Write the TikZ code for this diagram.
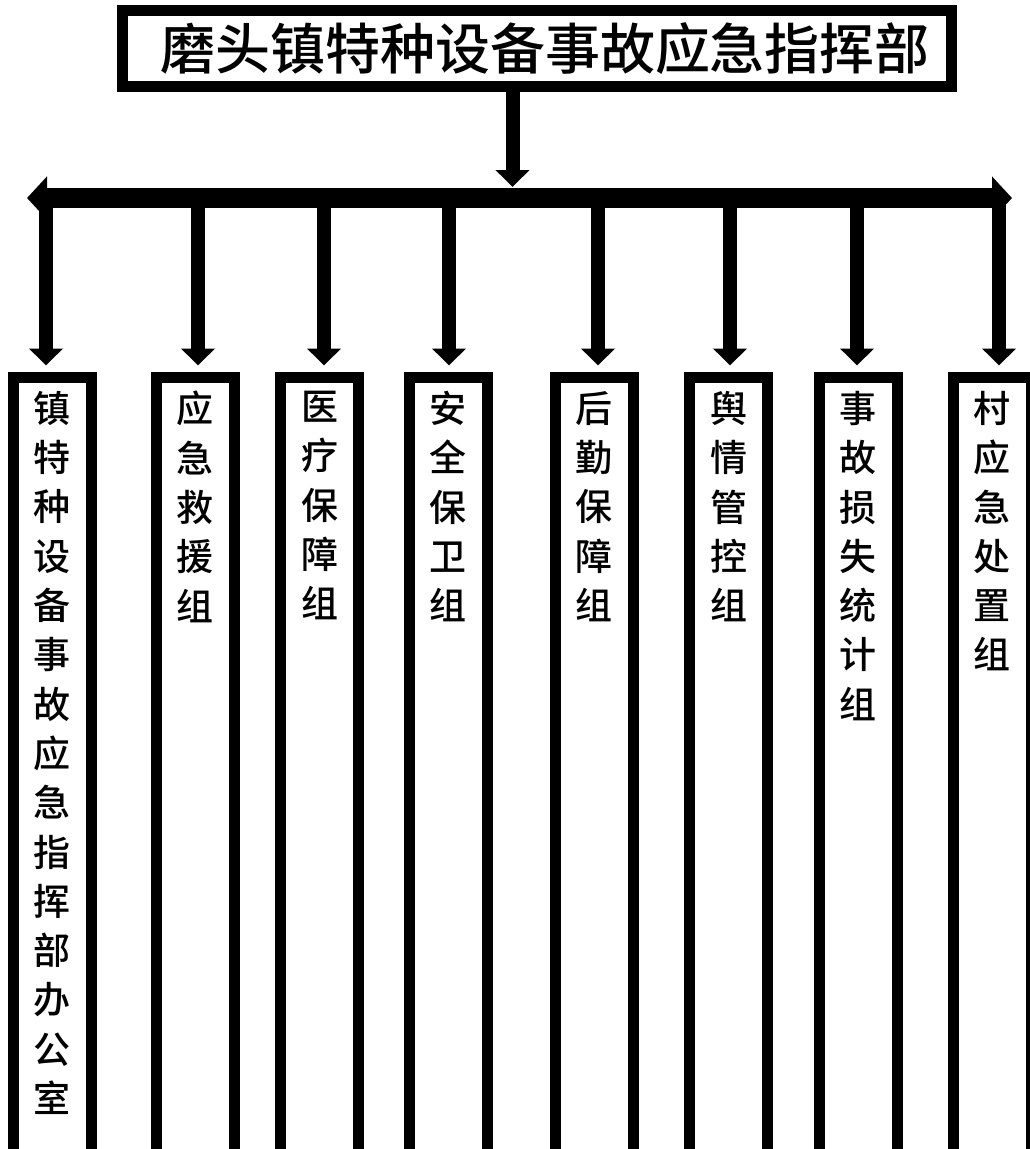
\documentclass[tikz,border=0pt]{standalone}
\usepackage{fontspec}
\newfontfamily\cjk{Noto Sans CJK SC}[UprightFont=* Medium, BoldFont=* Bold]
\usetikzlibrary{arrows.meta}
\begin{document}
\begin{tikzpicture}[x=1pt,y=-1pt,
  gbox/.style={draw=black, line width=11pt, minimum width=78pt, minimum height=782.5pt, inner sep=0pt},
  vtext/.style={anchor=north, inner sep=0pt, align=center, font=\cjk\fontsize{37}{49.3}\selectfont},
  conn/.style={line width=14pt, -{Triangle[width=33pt,length=17pt]}},
  barline/.style={line width=20pt, {Triangle[width=42pt,length=20pt]}-{Triangle[width=42pt,length=20pt]}}]
\useasboundingbox (0,0) rectangle (1030,1149);
% top box
\node[draw=black, line width=11pt, minimum width=829pt, minimum height=76pt, inner sep=0pt,
      font=\cjk\fontsize{55}{60}\selectfont] (top) at (537,48.5) {\hspace*{16pt}磨头镇特种设备事故应急指挥部};
% horizontal bar
\coordinate (L) at (27,198);
\coordinate (R) at (1012,198);
\draw[barline] (L) -- (R);
% trunk
\coordinate (jt) at (512.5,187);
\draw[conn] (top.south -| jt) -- (jt);
% boxes
\node[gbox] (b1) at (52,768.75) {};
\node[gbox] (b2) at (195,768.75) {};
\node[gbox] (b3) at (319.5,768.75) {};
\node[gbox] (b4) at (448,768.75) {};
\node[gbox] (b5) at (594,768.75) {};
\node[gbox] (b6) at (728.5,768.75) {};
\node[gbox] (b7) at (858,768.75) {};
\node[gbox] (b8) at (992,768.75) {};
% texts
\node[vtext] (t1) at (52,391) {镇\\特\\种\\设\\备\\事\\故\\应\\急\\指\\挥\\部\\办\\公\\室};
\node[vtext] (t2) at (195,391) {应\\急\\救\\援\\组};
\node[vtext] (t3) at (319.5,391) {医\\疗\\保\\障\\组};
\node[vtext] (t4) at (448,391) {安\\全\\保\\卫\\组};
\node[vtext] (t5) at (594,391) {后\\勤\\保\\障\\组};
\node[vtext] (t6) at (728.5,391) {舆\\情\\管\\控\\组};
\node[vtext] (t7) at (858,391) {事\\故\\损\\失\\统\\计\\组};
\node[vtext] (t8) at (992,391) {村\\应\\急\\处\\置\\组};
% branch arrows
\coordinate (j1) at (46,198);
\coordinate (j2) at (198,198);
\coordinate (j3) at (324,198);
\coordinate (j4) at (449,198);
\coordinate (j5) at (598,198);
\coordinate (j6) at (730,198);
\coordinate (j7) at (857,198);
\coordinate (j8) at (999,198);
\foreach \i in {1,...,8}{
  \draw[conn, shorten >=6.5pt] (j\i) -- (j\i |- b\i.north);
}
\end{tikzpicture}
\end{document}
